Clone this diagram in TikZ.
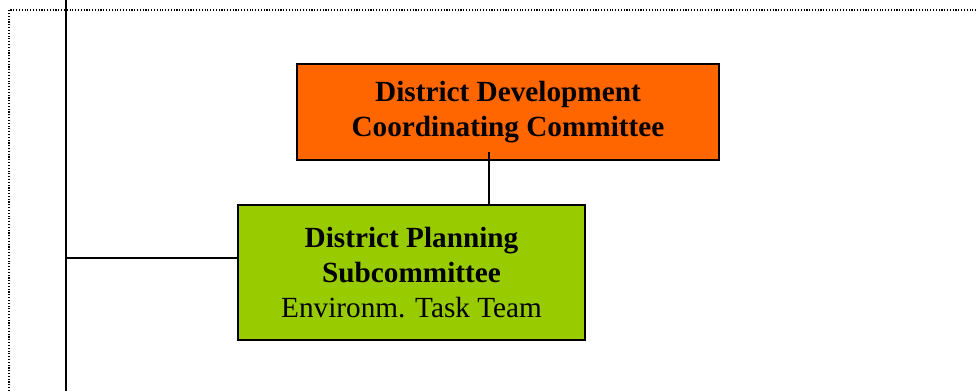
\documentclass[tikz,border=0pt]{standalone}
\usepackage{fontspec}
\setmainfont{Liberation Serif}
\usepackage{xcolor}
\usetikzlibrary{positioning,calc}

\definecolor{ddccorange}{HTML}{FF6600}
\definecolor{dpsgreen}{HTML}{99CC00}

\tikzset{
	orgbox/.style={draw=black,line width=1.3pt,align=center,inner sep=0pt,
		font=\fontsize{20.8}{24.6}\selectfont},
	link/.style={draw=black,line width=1pt}
}

\begin{document}
\begin{tikzpicture}[x=0.025cm,y=-0.025cm]
		\useasboundingbox (0,0) rectangle (978,391);
		\draw[black,line width=1pt,dash pattern=on 0.8pt off 1.2pt] (9,391) -- (9,10) -- (978,10);
		% spine on the left
		\coordinate (spine top) at (66,0);
		\coordinate (spine bottom) at (66,391);
		\coordinate (join) at (66,258);
		\draw[link] (spine top) -- (spine bottom);
		% the two committees
		\node[orgbox,fill=ddccorange,minimum width=10.55cm,minimum height=2.4cm] (ddcc) at (508,112)
			{\textbf{District Development}\\\textbf{Coordinating Committee}};
		\node[orgbox,fill=dpsgreen,minimum width=8.675cm,minimum height=3.375cm] (dps) at (411.5,272.5)
			{\textbf{District Planning}\\\textbf{Subcommittee}\\Environm. Task Team};
		\coordinate (tie) at (489,152);
		\draw[link] (tie) -- (tie |- dps.north);
		\draw[link] (join) -- (join -| dps.west);
	\end{tikzpicture}
\end{document}
